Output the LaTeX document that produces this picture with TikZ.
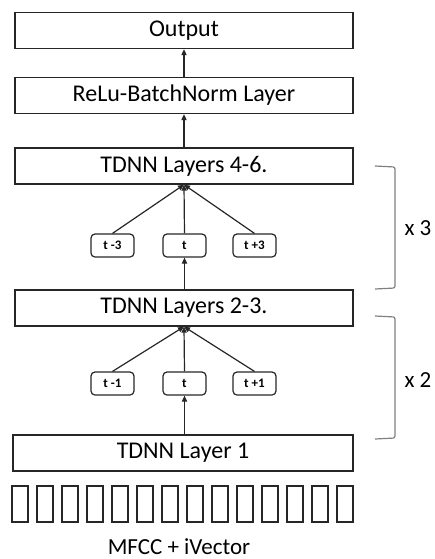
\documentclass[tikz,border=0pt]{standalone}
\usepackage{fontspec}
\setmainfont{Carlito}
\usetikzlibrary{arrows.meta}
\begin{document}
\begin{tikzpicture}[x=0.5pt,y=-0.5pt,
  layer/.style={draw=black!85,line width=0.65pt,minimum width=169pt,minimum height=18pt,inner sep=0pt,font=\fontsize{12}{14}\selectfont},
  tbox/.style={draw=black!85,line width=0.6pt,rounded corners=2pt,minimum width=21.5pt,minimum height=11.5pt,inner sep=0pt,font=\fontsize{6.5}{7.5}\selectfont\bfseries},
  bar/.style={draw=black!85,line width=0.6pt,minimum width=8pt,minimum height=18pt,inner sep=0pt},
  arr/.style={draw=black!85,line width=0.6pt,-{Triangle[length=3pt,width=2.6pt]}},
  brace/.style={draw=black!50,line width=0.6pt,rounded corners=1pt},
  lab/.style={font=\fontsize{11.5}{13}\selectfont}]
\useasboundingbox (0,0) rectangle (435,559);
\node[layer] (out) at (184,30.5) {Output};
\node[layer] (relu) at (184,95.5) {ReLu-BatchNorm Layer};
\node[layer] (t46) at (184,166) {TDNN Layers 4-6.};
\node[layer] (t23) at (184,308) {TDNN Layers 2-3.};
\node[layer,minimum width=170pt] (t1) at (183,453) {TDNN Layer 1};
\node[tbox] (a1) at (112.5,245.5) {t -3};
\node[tbox] (a2) at (184.5,245.5) {t};
\node[tbox] (a3) at (254.5,245.5) {t +3};
\node[tbox] (b1) at (112.5,383.5) {t -1};
\node[tbox] (b2) at (184.5,383.5) {t};
\node[tbox] (b3) at (254.5,383.5) {t +1};
\foreach \i in {0,...,13}{
  \node[bar] (m\i) at ({20+25*\i},504) {};
}
\node[lab] (mf) at (179,547) {MFCC + iVector};
\draw[arr] (relu.north) -- (out.south);
\draw[arr] (t46.north) -- (relu.south);
\draw[arr] (a1.north) -- (t46.south);
\draw[arr] (a2.north) -- (t46.south);
\draw[arr] (a3.north) -- (t46.south);
\draw[arr] (t23.north -| a2) -- (a2.south);
\draw[arr] (b1.north) -- (t23.south);
\draw[arr] (b2.north) -- (t23.south);
\draw[arr] (b3.north) -- (t23.south);
\draw[arr] (t1.north -| b2) -- (b2.south);
\coordinate (p1) at (375,166);
\coordinate (p2) at (395,167);
\coordinate (p3) at (395,288);
\coordinate (p4) at (375,289);
\draw[brace] (p1) -- (p2) -- (p3) -- (p4);
\coordinate (q1) at (375,316);
\coordinate (q2) at (395,317);
\coordinate (q3) at (395,438);
\coordinate (q4) at (375,439);
\draw[brace] (q1) -- (q2) -- (q3) -- (q4);
\node[lab] (x3) at (418,228) {x 3};
\node[lab] (x2) at (418,380) {x 2};
\end{tikzpicture}
\end{document}
